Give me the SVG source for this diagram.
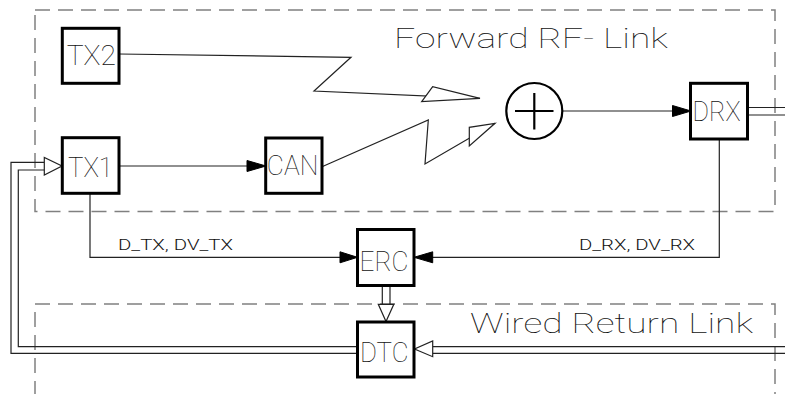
<svg xmlns="http://www.w3.org/2000/svg" width="785" height="394" viewBox="0 0 785 394">
<style>
.frame{fill:none;stroke:#808080;stroke-width:1.5;stroke-dasharray:15 8}
.box{fill:#fff;stroke:#000;stroke-width:3}
.ln{fill:none;stroke:#222;stroke-width:1.2}
.fa{fill:#000;stroke:#000;stroke-width:1}
.oa{fill:#fff;stroke:#222;stroke-width:1.2}
.t{font-family:Roboto,"Liberation Sans",sans-serif;font-weight:100;fill:#111}
.big{font-size:28px}
.sm{font-size:14px;font-weight:300}
</style>
<rect width="785" height="394" fill="#fff"/>
<g id="frames">
<rect class="frame" x="35" y="10" width="740" height="201.5"/>
<path class="frame" d="M35,396 V304 H775 V396"/>
<text class="t big" x="394" y="47.5" textLength="274" lengthAdjust="spacingAndGlyphs">Forward RF- Link</text>
<text class="t big" x="470" y="332.5" textLength="283" lengthAdjust="spacingAndGlyphs">Wired Return Link</text>
</g>
<g id="connectors">
<polyline class="ln" points="119,54 351,57.3 314,91 480,98.3"/>
<polygon class="oa" points="432.7,86.7 421.7,101.7 480,98.3"/>
<polyline class="ln" points="322,166.7 428.3,120 425,164 495,123.3"/>
<polygon class="oa" points="469.3,127.3 469.3,146 495,123.3"/>
<line class="ln" x1="119" y1="166" x2="248" y2="166"/>
<polygon class="fa" points="247,160.5 266,166 247,171.5"/>
<line class="ln" x1="562" y1="111" x2="673" y2="111"/>
<polygon class="fa" points="672.5,105.5 691,111 672.5,116.5"/>
<line class="ln" x1="747.5" y1="107.5" x2="785" y2="107.5"/>
<line class="ln" x1="747.5" y1="115" x2="785" y2="115"/>
<polyline class="ln" points="719.3,139 719.3,257.3 432,257.3"/>
<polygon class="fa" points="432.7,251.8 414,257.3 432.7,262.8"/>
<polyline class="ln" points="90,193 90,257.3 341,257.3"/>
<polygon class="fa" points="340,251.8 357.5,257.3 340,262.8"/>
<line class="ln" x1="382.3" y1="285" x2="382.3" y2="304.3"/>
<line class="ln" x1="390" y1="285" x2="390" y2="304.3"/>
<polygon class="oa" points="378.3,304.3 393.8,304.3 386,321.5"/>
<polyline class="ln" points="357.5,353.3 11,353.3 11,162.3 44.3,162.3"/>
<polyline class="ln" points="357.5,346.7 18.3,346.7 18.3,170 44.3,170"/>
<polygon class="oa" points="44.3,157.5 44.3,175 62,166"/>
<line class="ln" x1="432.7" y1="346.7" x2="785" y2="346.7"/>
<line class="ln" x1="432.7" y1="353.3" x2="785" y2="353.3"/>
<polygon class="oa" points="432.7,341 432.7,356.7 414.5,349"/>
<text class="t sm" x="118" y="249.5" textLength="115" lengthAdjust="spacingAndGlyphs">D_TX, DV_TX</text>
<text class="t sm" x="579" y="249.5" textLength="116" lengthAdjust="spacingAndGlyphs">D_RX, DV_RX</text>
</g>
<g id="TX2">
<rect class="box" x="62.3" y="28.3" width="56.7" height="55"/>
<text class="t big" x="66.7" y="65" textLength="49.3" lengthAdjust="spacingAndGlyphs">TX2</text>
</g>
<g id="TX1">
<rect class="box" x="62.3" y="137.7" width="56.7" height="55.6"/>
<text class="t big" x="68" y="176.5" textLength="45" lengthAdjust="spacingAndGlyphs">TX1</text>
</g>
<g id="CAN">
<rect class="box" x="265.7" y="138" width="56.3" height="55.3"/>
<text class="t big" x="266.8" y="175" textLength="51.5" lengthAdjust="spacingAndGlyphs">CAN</text>
</g>
<g id="SUM">
<circle cx="534.3" cy="111" r="28" fill="#fff" stroke="#000" stroke-width="2.2"/>
<line x1="515" y1="111" x2="553.5" y2="111" stroke="#000" stroke-width="2.2"/>
<line x1="534.3" y1="93" x2="534.3" y2="129.5" stroke="#000" stroke-width="2.2"/>
</g>
<g id="DRX">
<rect class="box" x="690.5" y="83.3" width="57" height="55.7"/>
<text class="t big" x="692.5" y="120.7" textLength="48" lengthAdjust="spacingAndGlyphs">DRX</text>
</g>
<g id="ERC">
<rect class="box" x="357.5" y="229.5" width="56.5" height="56"/>
<text class="t big" x="359.5" y="271" textLength="49" lengthAdjust="spacingAndGlyphs">ERC</text>
</g>
<g id="DTC">
<rect class="box" x="357.5" y="322" width="56.5" height="55"/>
<text class="t big" x="360" y="361.5" textLength="48.5" lengthAdjust="spacingAndGlyphs">DTC</text>
</g>
</svg>
